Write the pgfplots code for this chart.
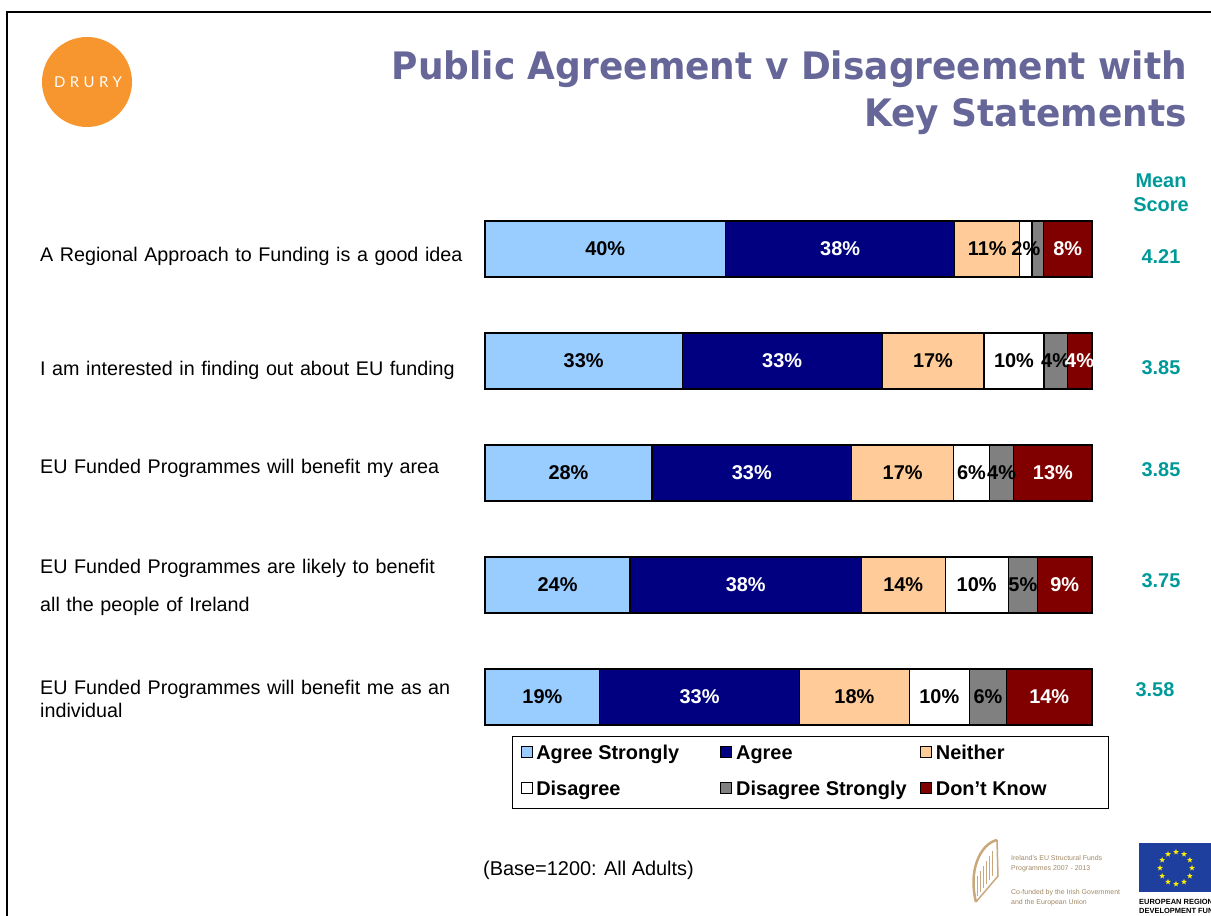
\documentclass[border=0pt]{standalone}
\usepackage{pgfplots}
\pgfplotsset{compat=1.18}
\usepackage{fontspec}
\setmainfont{Liberation Sans}
\newfontfamily\titlefont[FakeStretch=0.95]{DejaVu Sans}
\newfontfamily\logofont[LetterSpace=30]{Lato}
\usetikzlibrary{shapes.geometric,calc}

\definecolor{cAS}{HTML}{99CCFF}
\definecolor{cAG}{HTML}{000080}
\definecolor{cNE}{HTML}{FFCC99}
\definecolor{cDI}{HTML}{FFFFFF}
\definecolor{cDS}{HTML}{808080}
\definecolor{cDK}{HTML}{800000}
\definecolor{titlec}{HTML}{666699}
\definecolor{meanc}{HTML}{009999}
\definecolor{drury}{HTML}{F7962E}
\definecolor{harp}{HTML}{C9A97C}
\definecolor{eublue}{HTML}{1F3F9F}

\pgfplotsset{
  panel/.style={
    at={(485bp,163bp)}, anchor=south west,
    scale only axis, width=607bp, height=560bp,
    xmin=0, xmax=100, ymin=-0.5, ymax=4.5, y dir=reverse,
    clip=false,
  },
}

\begin{document}
\begin{tikzpicture}[x=1bp,y=1bp]
\path[use as bounding box] (0,0) rectangle (1211,916);
% frame
\draw[line width=2.5bp] (7,0) -- (7,904) -- (1220,904);
% logo
\fill[drury] (87,834) circle (45);
\node[white] at (88,834) {\logofont\fontsize{15}{18}\selectfont DRURY};
% title
\node[anchor=base east, inner sep=0, text=titlec] at (1187,836)
  {\titlefont\bfseries\fontsize{38}{46}\selectfont Public Agreement v Disagreement with};
\node[anchor=base east, inner sep=0, text=titlec] at (1187,789)
  {\titlefont\bfseries\fontsize{38}{46}\selectfont Key Statements};

% stacked bars (shares in %, each row sums to 100)
\begin{axis}[
  panel,
  xbar stacked, bar width=56bp,
  axis line style={draw=none}, tick style={draw=none},
  xtick=\empty,
  ytick={0.0625,1.08,1.955,3.024,4.018},
  yticklabels={
    A Regional Approach to Funding is a good idea,
    I am interested in finding out about EU funding,
    EU Funded Programmes will benefit my area,
    {EU Funded Programmes are likely to benefit\\[15bp]all the people of Ireland},
    {EU Funded Programmes will benefit me as an\\individual}},
  yticklabel style={anchor=west, text width=445bp, align=left, inner sep=0pt,
    xshift=-445bp, font=\fontsize{19.8}{23}\selectfont},
  legend columns=3, legend cell align=left,
  legend image code/.code={\draw[#1, line width=0.8bp] (0bp,-2.5bp) rectangle (11bp,8.5bp);},
  legend style={at={(axis cs:4.45,4.348)}, anchor=north west, draw=black,
    line width=1bp, inner xsep=8bp, inner ysep=8bp, row sep=16bp, column sep=4bp,
    nodes={inner sep=0pt, text height=15bp, text depth=5bp},
    font=\bfseries\fontsize{20}{24}\selectfont},
]
\addplot[fill=cAS, draw=black, line width=1.2bp] coordinates
  {(39.6,0) (32.5,1) (27.5,2) (23.9,3) (18.9,4)};
\addplot[fill=cAG, draw=black, line width=1.2bp] coordinates
  {(37.8,0) (32.9,1) (32.9,2) (38.1,3) (32.9,4)};
\addplot[fill=cNE, draw=black, line width=1.2bp] coordinates
  {(10.7,0) (16.8,1) (16.8,2) (13.8,3) (18.1,4)};
\addplot[fill=cDI, draw=black, line width=1.2bp] coordinates
  {(2.0,0) (9.9,1) (5.9,2) (10.4,3) (9.9,4)};
\addplot[fill=cDS, draw=black, line width=1.2bp] coordinates
  {(1.9,0) (3.8,1) (4.0,2) (4.8,3) (6.1,4)};
\addplot[fill=cDK, draw=black, line width=1.2bp] coordinates
  {(8.0,0) (4.1,1) (12.9,2) (9.0,3) (14.1,4)};
\legend{\makebox[180bp][l]{Agree Strongly}, \makebox[180bp][l]{Agree},
  \makebox[165bp][l]{Neither}, Disagree, Disagree Strongly, Don’t Know}
\end{axis}

% segment labels, at the middle of each segment
\begin{axis}[
  panel, hide axis,
  point meta=explicit symbolic,
  nodes near coords,
  every node near coord/.append style={anchor=center, inner sep=0pt,
    font=\bfseries\fontsize{20}{24}\selectfont},
]
\addplot[draw=none, every node near coord/.append style={text=black}] coordinates {
  (19.8,0) [40\%] (82.75,0) [11\%] (89.1,0) [2\%]
  (16.25,1) [33\%] (73.8,1) [17\%] (87.15,1) [10\%] (94.0,1) [4\%]
  (13.75,2) [28\%] (68.8,2) [17\%] (80.15,2) [6\%] (85.1,2) [4\%]
  (11.95,3) [24\%] (68.9,3) [14\%] (81.0,3) [10\%] (88.6,3) [5\%]
  (9.45,4) [19\%] (60.85,4) [18\%] (74.85,4) [10\%] (82.85,4) [6\%]};
\addplot[draw=none, every node near coord/.append style={text=white}] coordinates {
  (58.5,0) [38\%] (96.0,0) [8\%]
  (48.95,1) [33\%] (97.95,1) [4\%]
  (43.95,2) [33\%] (93.55,2) [13\%]
  (42.95,3) [38\%] (95.5,3) [9\%]
  (35.35,4) [33\%] (92.95,4) [14\%]};
\end{axis}

% mean scores
\begin{scope}[every node/.style={text=meanc, font=\bfseries\fontsize{20}{24}\selectfont, anchor=base, inner sep=0}]
\node at (1161,728) {Mean};
\node at (1161,704) {Score};
\node at (1161,652) {4.21};
\node at (1161,541) {3.85};
\node at (1161,439) {3.85};
\node at (1161,328) {3.75};
\node at (1155,219) {3.58};
\end{scope}

% base note
\node[anchor=base west, inner sep=0, font=\fontsize{20}{23}\selectfont] at (483,40) {(Base=1200: All Adults)};

% harp logo
\draw[harp, line width=2.5bp] (976,14) .. controls (968,45) and (980,72) .. (997,76);
\draw[harp, line width=1.5bp] (976,14) -- (998,40) -- (997,76);
\foreach \i in {0,...,5} \draw[harp, line width=0.5bp] (977+3*\i,20+4*\i) -- (977+3*\i,40+5*\i);
\begin{scope}[every node/.style={text=harp!80!black, anchor=base west, inner sep=0, font=\fontsize{7}{8}\selectfont}]
\node at (1011,55) {Ireland’s EU Structural Funds};
\node at (1011,45) {Programmes 2007 - 2013};
\node at (1011,21) {Co-funded by the Irish Government};
\node at (1011,11) {and the European Union};
\end{scope}
% EU flag
\fill[eublue] (1139,24) rectangle (1220,73);
\foreach \a in {0,30,...,330}
  \node[star, star points=5, star point ratio=2.4, fill=yellow, inner sep=0, minimum size=6bp] at ($(1176,48)+(\a:16)$) {};
\node[anchor=base west, inner sep=0, font=\bfseries\fontsize{7.5}{8}\selectfont] at (1139,11) {EUROPEAN REGIONAL};
\node[anchor=base west, inner sep=0, font=\bfseries\fontsize{7.5}{8}\selectfont] at (1139,2) {DEVELOPMENT FUND};
\end{tikzpicture}
\end{document}
